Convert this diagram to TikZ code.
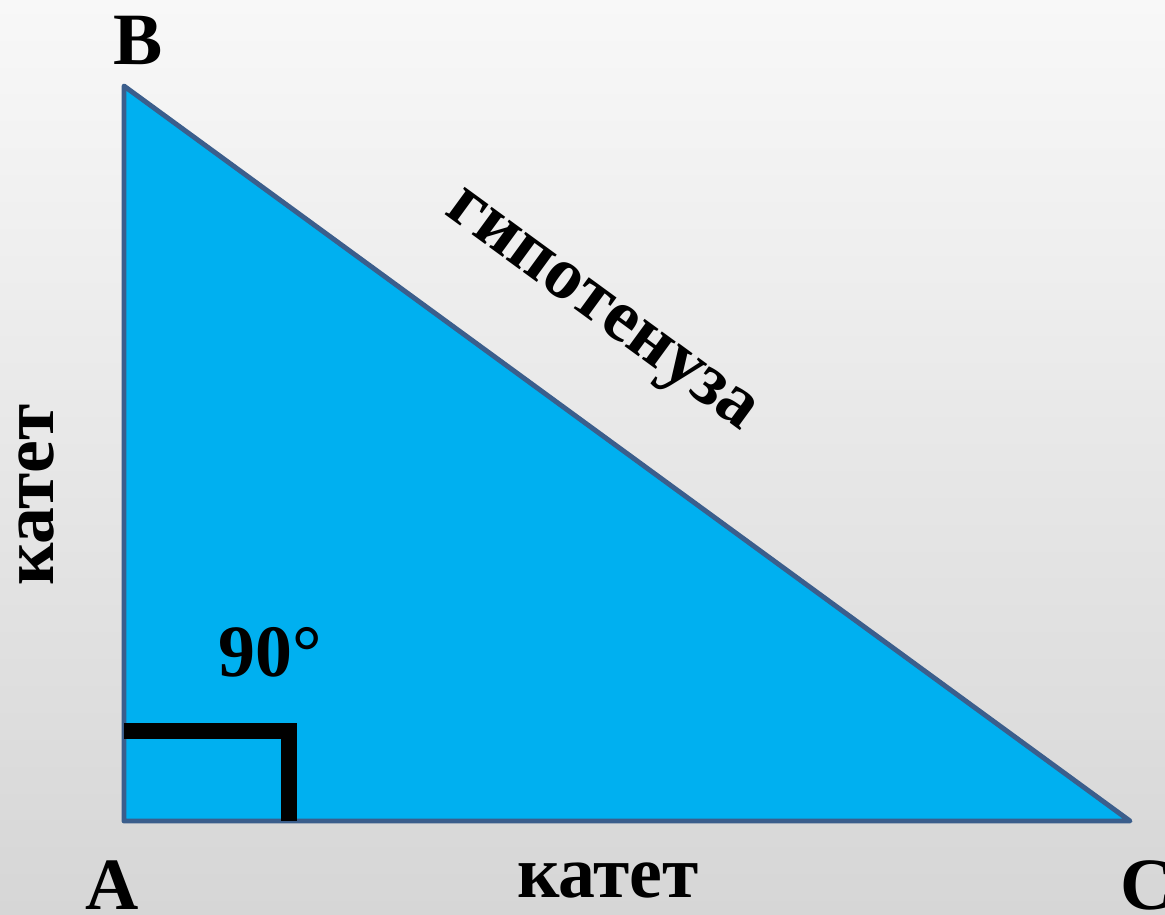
\documentclass[tikz,border=0pt]{standalone}
\usepackage{fontspec}
\setmainfont{Liberation Serif}
\usetikzlibrary{calc,positioning}
\definecolor{Ink}{HTML}{000000}
\definecolor{Sky}{HTML}{00B0F0}
\definecolor{Edge}{HTML}{3B5E8C}
\definecolor{PaperTop}{HTML}{F8F8F8}
\definecolor{PaperBot}{HTML}{D6D6D6}
\tikzset{
  vertexlabel/.style={font=\fontsize{42}{42}\selectfont\bfseries, text=Ink, inner sep=0pt},
  sidelabel/.style={font=\fontsize{42}{42}\selectfont\bfseries, text=Ink, inner sep=0pt},
  trianglefill/.style={fill=Sky, draw=Edge, line width=2.8pt, line join=round},
  rightmark/.style={draw=Ink, line width=9pt}
}
\begin{document}
\begin{tikzpicture}[x=0.02cm,y=-0.02cm]
    % background
    \shade[top color=PaperTop,bottom color=PaperBot] (0,0) rectangle (1165,914);
    \useasboundingbox (0,0) rectangle (1165,914);
    \coordinate (A) at (124,821);
    \coordinate (B) at (124,86);
    \coordinate (C) at (1130,821);
    \draw[trianglefill] (A)--(B)--(C)--cycle;
    \coordinate (m1) at (124,731);
    \coordinate (m2) at (289,731);
    \coordinate (m3) at (289,821);
    \draw[rightmark] (m1)--(m2)--(m3);
    \node[vertexlabel] (lB) at (138,40) {B};
    \node[vertexlabel] (lA) at (112,885) {A};
    \node[vertexlabel] (lC) at (1147,885) {C};
    \node[sidelabel] (ang) at (270,652) {90°};
    \node[sidelabel] (cat1) at (608,880) {катет};
    \node[sidelabel,rotate=90] (cat2) at (37,495) {катет};
    \node[sidelabel,rotate=-36.15] (hyp) at (598,315) {гипотенуза};
\end{tikzpicture}
\end{document}
